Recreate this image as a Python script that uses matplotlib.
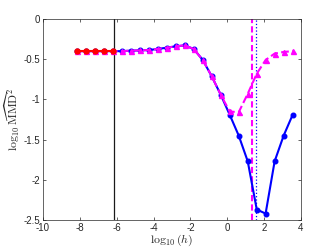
import matplotlib
matplotlib.use("Agg")
import matplotlib.pyplot as plt

x = [-8.17, -7.68, -7.19, -6.71, -6.22, -5.73, -5.24, -4.75, -4.26, -3.78,
     -3.29, -2.80, -2.31, -1.82, -1.33, -0.85, -0.36, 0.13, 0.62, 1.11,
     1.60, 2.08, 2.57, 3.06, 3.55]
magenta_y = [-0.40, -0.40, -0.40, -0.40, -0.40, -0.40, -0.394, -0.39, -0.386, -0.373,
             -0.357, -0.34, -0.328, -0.373, -0.51, -0.71, -0.94, -1.15, -1.16, -0.93,
             -0.68, -0.51, -0.43, -0.41, -0.40]
blue_y = [-0.40, -0.40, -0.40, -0.40, -0.40, -0.40, -0.394, -0.39, -0.386, -0.373,
          -0.357, -0.34, -0.328, -0.373, -0.51, -0.71, -0.94, -1.19, -1.45, -1.77,
          -2.37, -2.42, -1.77, -1.45, -1.19]
red_x = x[:5]
red_y = [-0.40, -0.40, -0.40, -0.40, -0.40]
black_vline = -6.13
magenta_vline = 1.32
blue_vline = 1.56

xticks = [-10, -8, -6, -4, -2, 0, 2, 4]
yticks = [-2.5, -2, -1.5, -1, -0.5, 0]
ytick_labels = ['-2.5', '-2', '-1.5', '-1', '-0.5', '0']

plt.rcParams['mathtext.fontset'] = 'cm'
plt.rcParams['font.family'] = ['Liberation Sans', 'DejaVu Sans']

fig = plt.figure(figsize=(3.32, 2.49), dpi=100)
ax = fig.add_axes([0.1295, 0.1165, 0.7771, 0.8072])

ax.plot(x, blue_y, '-o', color='#0000ff', lw=1.5, ms=3.3, zorder=3)
ax.plot(x, magenta_y, '--^', color='#ff00ff', lw=1.5, ms=3.6, zorder=4)
ax.plot(red_x, red_y, '-o', color='#ff0000', lw=1.5, ms=3.6, zorder=5)
ax.axvline(black_vline, color='#1a1a1a', lw=0.9, zorder=2)
ax.axvline(magenta_vline, color='#ff00ff', ls='--', lw=1.5, dashes=(3, 1.5), zorder=2)
ax.axvline(blue_vline, color='#0000ff', ls=':', lw=0.9, zorder=2)

ax.set_xlim(-10, 4)
ax.set_ylim(-2.5, 0)
ax.set_xticks(xticks)
ax.set_xticklabels([str(t) for t in xticks])
ax.set_yticks(yticks)
ax.set_yticklabels(ytick_labels)
ax.tick_params(direction='in', length=2.5, width=0.5, labelsize=7, colors='#262626',
               top=True, right=True, pad=2)
for sp in ax.spines.values():
    sp.set_linewidth(0.5)
    sp.set_color('#262626')

ax.set_xlabel(r'$\log_{10}(h)$', fontsize=8.5, labelpad=0, color='#262626')
ax.set_ylabel(r'$\log_{10}\widehat{\mathrm{MMD}}^2$', fontsize=8.5, labelpad=1, color='#262626')

fig.savefig('out.png', dpi=100)
